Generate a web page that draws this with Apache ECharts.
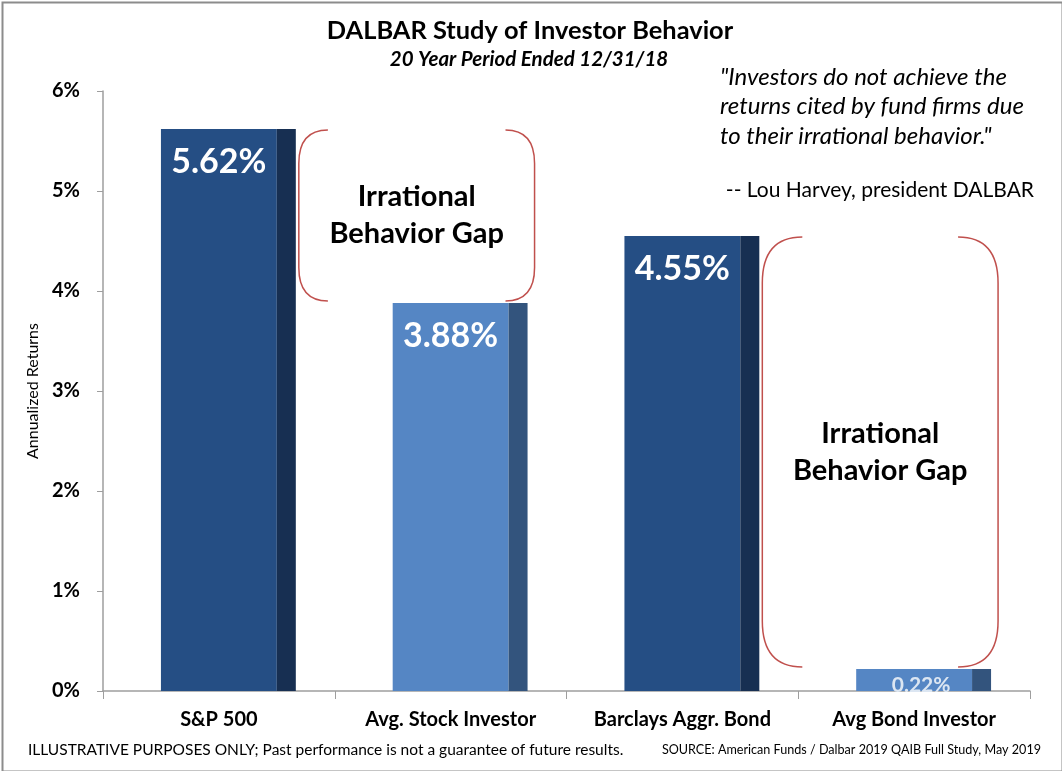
<!DOCTYPE html>
<html>
<head>
<meta charset="utf-8">
<script src="https://cdn.jsdelivr.net/npm/echarts@6/dist/echarts.min.js"></script>
<style>
html,body{margin:0;padding:0;background:#fff;}
#chart{width:1062px;height:771px;}
</style>
</head>
<body>
<div id="chart"></div>
<script>
// ---- data ----
const categories = ['S&P 500', 'Avg. Stock Investor', 'Barclays Aggr. Bond', 'Avg Bond Investor'];
const returns = [5.62, 3.88, 4.55, 0.22];
const yTicks = ['0%', '1%', '2%', '3%', '4%', '5%', '6%'];
const gapPairs = [[0, 1], [2, 3]];           // benchmark vs. investor
const gapLabel = 'Irrational\nBehavior Gap';
const titleText = 'DALBAR Study of Investor Behavior';
const subtitleText = '20 Year Period Ended 12/31/18';
const quoteLines = ['"Investors do not achieve the', 'returns cited by fund firms due', 'to their irrational behavior."'];
const quoteAuthor = '-- Lou Harvey, president DALBAR';
const footLeft = 'ILLUSTRATIVE PURPOSES ONLY; Past performance is not a guarantee of future results.';
const footRight = 'SOURCE: American Funds / Dalbar 2019 QAIB Full Study, May 2019';

// ---- styles ----
const FONT = 'Lato, "Noto Sans", sans-serif';
const frontColors = ['#254E84', '#5586C4', '#254E84', '#5586C4'];
const sideColors = ['#172F52', '#33547D', '#172F52', '#33547D'];
const FRONT_FRAC = 0.5, SIDE_FRAC = 0.082;

const barData = returns.map((v, i) => [i, v]);
const gapData = gapPairs.map(p => [p[0], returns[p[0]], returns[p[1]]]);

const chart = echarts.init(document.getElementById('chart'), null, {renderer: 'canvas'});

function renderBar(params, api) {
  const i = api.value(0), v = api.value(1);
  const top = api.coord([i, v]);
  const base = api.coord([i, 0]);
  const cw = api.size([1, 0])[0];
  const fw = cw * FRONT_FRAC, sw = cw * SIDE_FRAC;
  const x0 = top[0] - fw / 2;
  const h = base[1] - top[1];
  const big = v >= 1;
  return {
    type: 'group',
    children: [
      {type: 'rect', shape: {x: x0, y: top[1], width: fw, height: h}, style: {fill: frontColors[i]}},
      {type: 'rect', shape: {x: x0 + fw, y: top[1], width: sw, height: h}, style: {fill: sideColors[i]}},
      {type: 'text', style: {
        text: v.toFixed(2) + '%', x: big ? top[0] : top[0] + 7, y: top[1] + (big ? 33 : 16),
        align: 'center', verticalAlign: 'middle',
        fontFamily: FONT, fontWeight: 'bold', fontSize: big ? 34 : 21,
        fill: big ? '#ffffff' : '#DCE6F2'
      }}
    ]
  };
}

function renderGap(params, api) {
  const i = api.value(0), hi = api.value(1), lo = api.value(2);
  const p0 = api.coord([i, hi]);
  const p1 = api.coord([i + 1, lo]);
  const cw = api.size([1, 0])[0];
  const off = cw * (FRONT_FRAC / 2 + SIDE_FRAC);
  const left = p0[0] + off + 3;
  const right = p1[0] + off + 7;
  const top = p0[1] + 1, bottom = p1[1] - 2;
  const r = Math.min(40, (bottom - top) * 0.17);
  const ry = r * 1.15;
  const lp = `M${left + r},${top} Q${left},${top} ${left},${top + ry} L${left},${bottom - ry} Q${left},${bottom} ${left + r},${bottom}`;
  const rp = `M${right - r},${top} Q${right},${top} ${right},${top + ry} L${right},${bottom - ry} Q${right},${bottom} ${right - r},${bottom}`;
  const st = {fill: null, stroke: '#C0504D', lineWidth: 1.5};
  return {
    type: 'group',
    children: [
      {type: 'path', shape: {pathData: lp}, style: st},
      {type: 'path', shape: {pathData: rp}, style: st},
      {type: 'text', style: {
        text: gapLabel, x: (left + right) / 2, y: (top + bottom) / 2,
        align: 'center', verticalAlign: 'middle',
        fontFamily: FONT, fontWeight: 'bold', fontSize: 29, lineHeight: 37, fill: '#000'
      }}
    ]
  };
}

const graphics = [
  {type: 'rect', left: 0, top: 0, shape: {x: 1, y: 1, width: 1060, height: 769}, style: {fill: null, stroke: '#8C8C8C', lineWidth: 2}, silent: true},
  {type: 'text', x: 530, y: 31, style: {text: titleText, align: 'center', verticalAlign: 'middle', fontFamily: FONT, fontWeight: 'bold', fontSize: 25.4, fill: '#000'}},
  {type: 'text', x: 529, y: 59, style: {text: subtitleText, align: 'center', verticalAlign: 'middle', fontFamily: FONT, fontWeight: 'bold', fontStyle: 'italic', fontSize: 20.5, fill: '#000'}},
  {type: 'text', x: 1034, y: 190, style: {text: quoteAuthor, align: 'right', verticalAlign: 'middle', fontFamily: FONT, fontSize: 21, fill: '#000'}},
  {type: 'text', x: 28, y: 750, style: {text: footLeft, align: 'left', verticalAlign: 'middle', fontFamily: FONT, fontSize: 15.5, fill: '#000'}},
  {type: 'text', x: 1041, y: 750, style: {text: footRight, align: 'right', verticalAlign: 'middle', fontFamily: FONT, fontSize: 12.6, fill: '#000'}}
];
quoteLines.forEach((t, k) => {
  graphics.push({type: 'text', x: 720, y: 77 + k * 29.5, style: {text: t, align: 'left', verticalAlign: 'middle', fontFamily: FONT, fontStyle: 'italic', fontSize: 24, fill: '#000'}});
});

chart.setOption({
  animation: false,
  backgroundColor: '#fff',
  grid: {left: 103, right: 32, top: 91, bottom: 80, containLabel: false},
  xAxis: {
    type: 'category', data: categories,
    axisLine: {lineStyle: {color: '#9E9E9E', width: 1.5}},
    axisTick: {show: true, alignWithLabel: false, length: 8, lineStyle: {color: '#9E9E9E'}},
    axisLabel: {interval: 0, margin: 19, fontFamily: FONT, fontWeight: 'bold', fontSize: 20, color: '#000'},
    splitLine: {show: false}
  },
  yAxis: {
    type: 'value', min: 0, max: 6, interval: 1,
    name: 'Annualized Returns', nameLocation: 'middle', nameGap: 61, nameRotate: 90,
    nameTextStyle: {fontFamily: FONT, fontSize: 16, color: '#000'},
    axisLine: {show: true, lineStyle: {color: '#9E9E9E', width: 1.5}},
    axisTick: {show: true, length: 6, lineStyle: {color: '#9E9E9E'}},
    axisLabel: {formatter: (v) => yTicks[Math.round(v)], margin: 23, fontFamily: FONT, fontWeight: 'bold', fontSize: 20, color: '#000'},
    splitLine: {show: false}
  },
  series: [
    {type: 'custom', name: 'returns', renderItem: renderBar, data: barData, encode: {x: 0, y: 1}, clip: false, z: 2},
    {type: 'custom', name: 'gaps', renderItem: renderGap, data: gapData, encode: {x: 0, y: [1, 2]}, clip: false, z: 3}
  ],
  graphic: graphics
});
</script>
</body>
</html>
